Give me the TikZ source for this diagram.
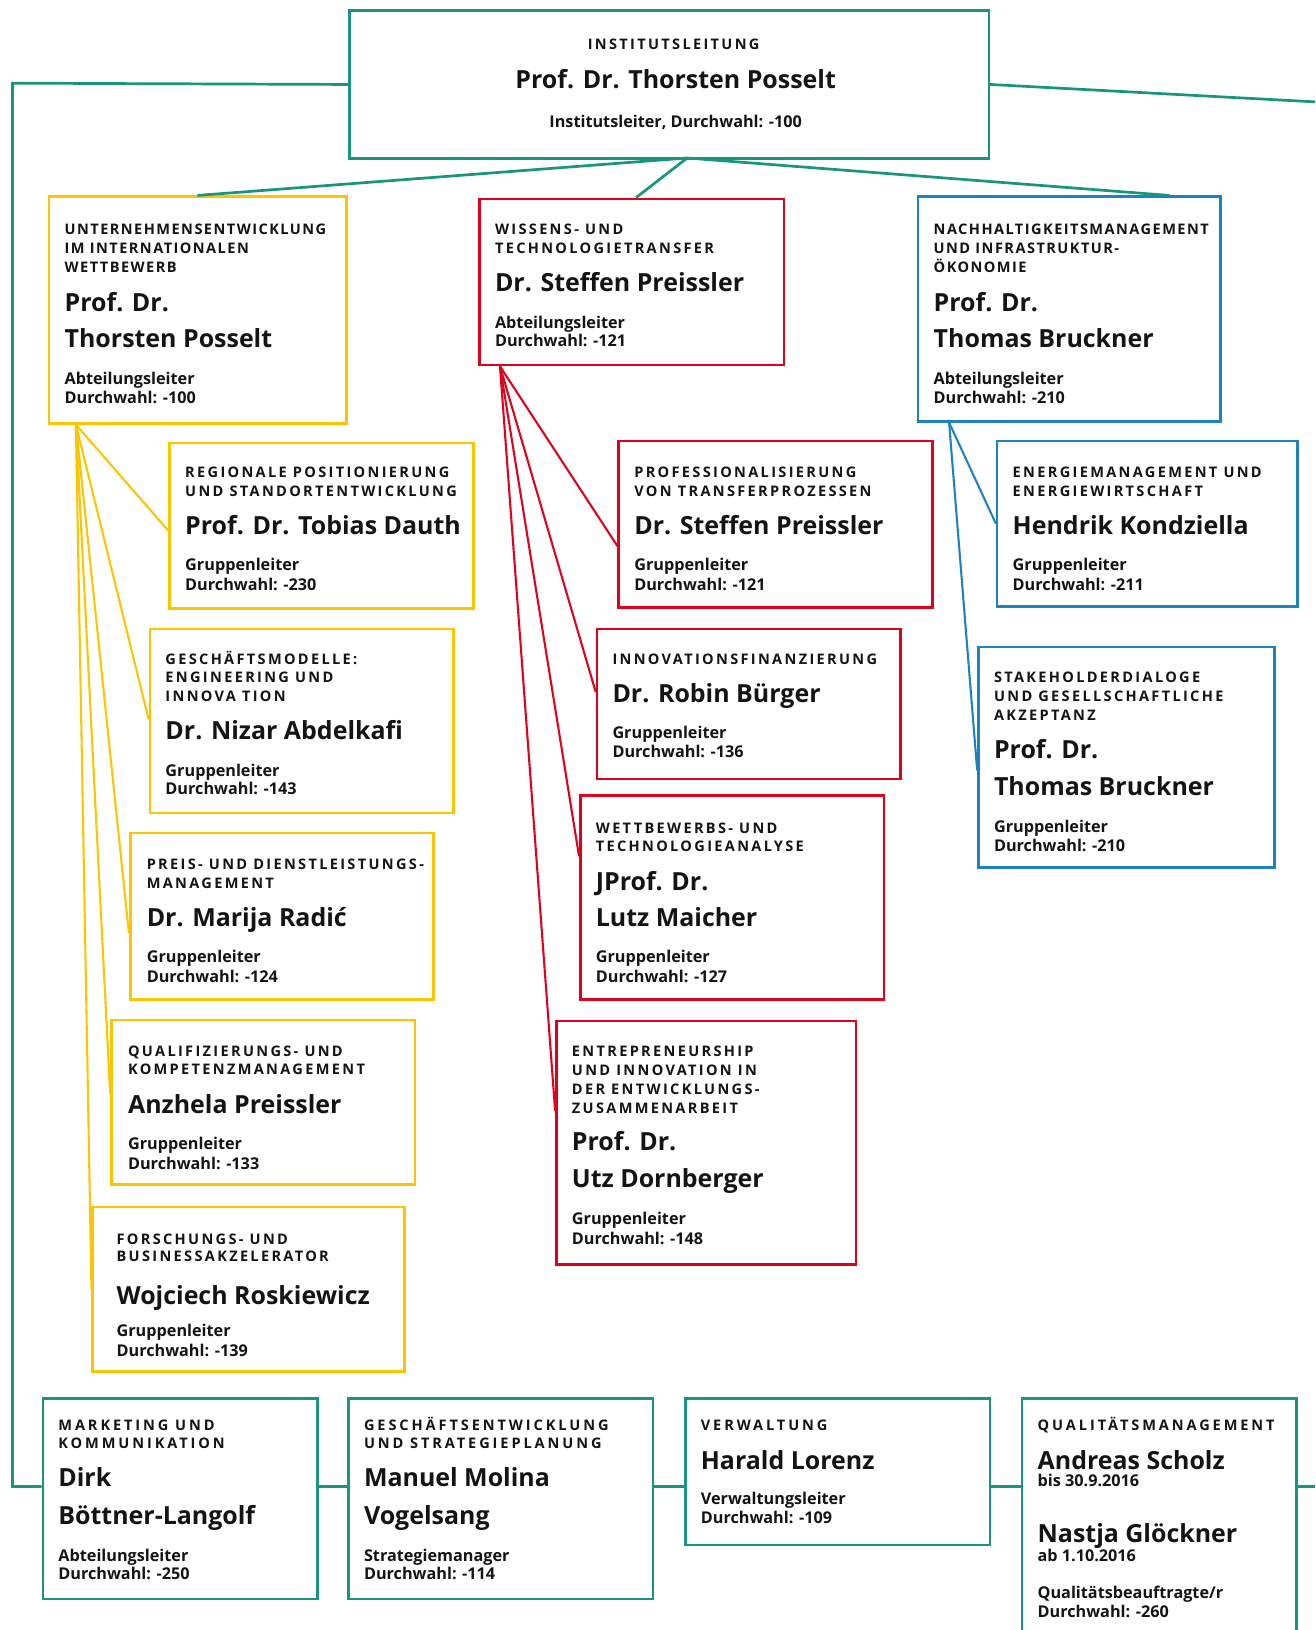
\documentclass[tikz,border=0pt]{standalone}
\usepackage{fontspec}
\setmainfont{Open Sans}
\newfontfamily\hdA[LetterSpace=16]{Open Sans}
\newfontfamily\hdB[LetterSpace=10]{Open Sans}
\newfontfamily\hdC[LetterSpace=20]{Open Sans}
\usetikzlibrary{calc}
\definecolor{fteal}{RGB}{23,150,125}
\definecolor{fyel}{RGB}{253,196,0}
\definecolor{fred}{RGB}{226,0,26}
\definecolor{fblue}{RGB}{31,130,192}
\definecolor{ftxt}{RGB}{20,20,20}
\tikzset{
  orgbox/.style={draw, line width=2.5pt, rectangle, inner sep=0pt, anchor=north west},
  tealbox/.style={orgbox, draw=fteal},
  yelbox/.style={orgbox, draw=fyel},
  redbox/.style={orgbox, draw=fred},
  bluebox/.style={orgbox, draw=fblue},
  txtbase/.style={anchor=mid west, inner sep=0pt, text=ftxt},
  hd/.style={txtbase, yshift=-3pt, font=\hdA\bfseries\fontsize{14}{16}\selectfont},
  hdn/.style={txtbase, yshift=-3pt, font=\hdB\bfseries\fontsize{14}{16}\selectfont},
  hdw/.style={txtbase, yshift=-3pt, font=\hdC\bfseries\fontsize{14}{16}\selectfont},
  nm/.style={txtbase, yshift=-6.5pt, font=\bfseries\fontsize{24}{26}\selectfont},
  sm/.style={txtbase, yshift=-3pt, font=\bfseries\fontsize{15.6}{17}\selectfont},
  tealline/.style={draw=fteal, line width=2.6pt},
  yelline/.style={draw=fyel, line width=2pt},
  redline/.style={draw=fred, line width=2pt},
  blueline/.style={draw=fblue, line width=2pt},
}
\newcommand\obox[6]{\node[#2, minimum width=#5pt, minimum height=#6pt] (#1) at (#3,#4) {};}
\newcommand\otxt[5]{\node[#2] (#1) at (#3,#4) {#5};}
\begin{document}
\begin{tikzpicture}[x=1pt,y=-1pt]
\clip (0,0) rectangle (1265,1568);
\fill[white] (0,0) rectangle (1265,1568);

% ---------- top ----------
\obox{top}{tealbox}{335}{9}{615}{142}
\node[hd, anchor=mid] (toph) at (648,42) {INSTITUTSLEITUNG};
\node[nm, anchor=mid] (topn) at (650,76) {Prof. Dr. Thorsten Posselt};
\node[sm, anchor=mid] (tops) at (650,117) {Institutsleiter, Durchwahl: -100};

% ---------- level 2 ----------
\obox{Y0}{yelbox}{46}{188}{286}{218}
\otxt{Y0a}{hdn}{62}{220}{UNTERNEHMENSENTWICKLUNG}
\otxt{Y0b}{hdn}{62}{238}{IM INTERNATIONALEN}
\otxt{Y0c}{hdn}{62}{256}{WETTBEWERB}
\otxt{Y0d}{nm}{62}{290}{Prof. Dr.}
\otxt{Y0e}{nm}{62}{325}{Thorsten Posselt}
\otxt{Y0f}{sm}{62}{364}{Abteilungsleiter}
\otxt{Y0g}{sm}{62}{382}{Durchwahl: -100}

\obox{R0}{redbox}{460}{190}{293}{160}
\otxt{R0a}{hd}{476}{220}{WISSENS- UND}
\otxt{R0b}{hd}{476}{238}{TECHNOLOGIETRANSFER}
\otxt{R0d}{nm}{476}{271}{Dr. Steffen Preissler}
\otxt{R0f}{sm}{476}{310}{Abteilungsleiter}
\otxt{R0g}{sm}{476}{328}{Durchwahl: -121}

\obox{B0}{bluebox}{882}{188}{291}{216}
\otxt{B0a}{hdn}{898}{220}{NACHHALTIGKEITSMANAGEMENT}
\otxt{B0b}{hdn}{898}{238}{UND INFRASTRUKTUR-}
\otxt{B0c}{hdn}{898}{256}{ÖKONOMIE}
\otxt{B0d}{nm}{898}{290}{Prof. Dr.}
\otxt{B0e}{nm}{898}{325}{Thomas Bruckner}
\otxt{B0f}{sm}{898}{364}{Abteilungsleiter}
\otxt{B0g}{sm}{898}{382}{Durchwahl: -210}

% ---------- yellow children ----------
\obox{Y1}{yelbox}{162}{425}{292}{159}
\otxt{Y1a}{hd}{178}{454}{REGIONALE POSITIONIERUNG}
\otxt{Y1b}{hd}{178}{472}{UND STANDORTENTWICKLUNG}
\otxt{Y1d}{nm}{178}{505}{Prof. Dr. Tobias Dauth}
\otxt{Y1f}{sm}{178}{543}{Gruppenleiter}
\otxt{Y1g}{sm}{178}{562}{Durchwahl: -230}

\obox{Y2}{yelbox}{143}{604}{292}{177}
\otxt{Y2a}{hd}{159}{634}{GESCHÄFTSMODELLE:}
\otxt{Y2b}{hd}{159}{651}{ENGINEERING UND}
\otxt{Y2c}{hd}{159}{669}{INNOVA TION}
\otxt{Y2d}{nm}{159}{702}{Dr. Nizar Abdelkafi}
\otxt{Y2f}{sm}{159}{741}{Gruppenleiter}
\otxt{Y2g}{sm}{159}{759}{Durchwahl: -143}

\obox{Y3}{yelbox}{124}{800}{292}{160}
\otxt{Y3a}{hd}{141}{831}{PREIS- UND DIENSTLEISTUNGS-}
\otxt{Y3b}{hd}{141}{849}{MANAGEMENT}
\otxt{Y3d}{nm}{141}{882}{Dr. Marija Radić}
\otxt{Y3f}{sm}{141}{920}{Gruppenleiter}
\otxt{Y3g}{sm}{141}{939}{Durchwahl: -124}

\obox{Y4}{yelbox}{106}{980}{292}{158}
\otxt{Y4a}{hd}{123}{1011}{QUALIFIZIERUNGS- UND}
\otxt{Y4b}{hd}{123}{1028}{KOMPETENZMANAGEMENT}
\otxt{Y4d}{nm}{123}{1062}{Anzhela Preissler}
\otxt{Y4f}{sm}{123}{1100}{Gruppenleiter}
\otxt{Y4g}{sm}{123}{1119}{Durchwahl: -133}

\obox{Y5}{yelbox}{88}{1160}{300}{158}
\otxt{Y5a}{hd}{112}{1191}{FORSCHUNGS- UND}
\otxt{Y5b}{hd}{112}{1208}{BUSINESSAKZELERATOR}
\otxt{Y5d}{nm}{112}{1246}{Wojciech Roskiewicz}
\otxt{Y5f}{sm}{112}{1280}{Gruppenleiter}
\otxt{Y5g}{sm}{112}{1299}{Durchwahl: -139}

% ---------- red children ----------
\obox{R1}{redbox}{594}{423}{302}{160}
\otxt{R1a}{hd}{610}{454}{PROFESSIONALISIERUNG}
\otxt{R1b}{hd}{610}{472}{VON TRANSFERPROZESSEN}
\otxt{R1d}{nm}{610}{505}{Dr. Steffen Preissler}
\otxt{R1f}{sm}{610}{543}{Gruppenleiter}
\otxt{R1g}{sm}{610}{562}{Durchwahl: -121}

\obox{R2}{redbox}{573}{604}{292}{144}
\otxt{R2a}{hd}{589}{634}{INNOVATIONSFINANZIERUNG}
\otxt{R2d}{nm}{589}{667}{Dr. Robin Bürger}
\otxt{R2f}{sm}{589}{705}{Gruppenleiter}
\otxt{R2g}{sm}{589}{723}{Durchwahl: -136}

\obox{R3}{redbox}{557}{764}{292}{196}
\otxt{R3a}{hd}{573}{796}{WETTBEWERBS- UND}
\otxt{R3b}{hd}{573}{813}{TECHNOLOGIEANALYSE}
\otxt{R3d}{nm}{573}{847}{JProf. Dr.}
\otxt{R3e}{nm}{573}{882}{Lutz Maicher}
\otxt{R3f}{sm}{573}{920}{Gruppenleiter}
\otxt{R3g}{sm}{573}{939}{Durchwahl: -127}

\obox{R4}{redbox}{534}{981}{288}{234}
\otxt{R4a}{hd}{550}{1011}{ENTREPRENEURSHIP}
\otxt{R4b}{hd}{550}{1029}{UND INNOVATION IN}
\otxt{R4c}{hd}{550}{1047}{DER ENTWICKLUNGS-}
\otxt{R4h}{hd}{550}{1065}{ZUSAMMENARBEIT}
\otxt{R4d}{nm}{550}{1098}{Prof. Dr.}
\otxt{R4e}{nm}{550}{1133}{Utz Dornberger}
\otxt{R4f}{sm}{550}{1172}{Gruppenleiter}
\otxt{R4g}{sm}{550}{1191}{Durchwahl: -148}

% ---------- blue children ----------
\obox{B1}{bluebox}{958}{423}{289}{159}
\otxt{B1a}{hd}{974}{454}{ENERGIEMANAGEMENT UND}
\otxt{B1b}{hd}{974}{472}{ENERGIEWIRTSCHAFT}
\otxt{B1d}{nm}{974}{505}{Hendrik Kondziella}
\otxt{B1f}{sm}{974}{543}{Gruppenleiter}
\otxt{B1g}{sm}{974}{562}{Durchwahl: -211}

\obox{B2}{bluebox}{940}{621}{285}{212}
\otxt{B2a}{hd}{956}{651}{STAKEHOLDERDIALOGE}
\otxt{B2b}{hd}{956}{669}{UND GESELLSCHAFTLICHE}
\otxt{B2c}{hd}{956}{687}{AKZEPTANZ}
\otxt{B2d}{nm}{956}{720}{Prof. Dr.}
\otxt{B2e}{nm}{956}{756}{Thomas Bruckner}
\otxt{B2f}{sm}{956}{795}{Gruppenleiter}
\otxt{B2g}{sm}{956}{813}{Durchwahl: -210}

% ---------- bottom row ----------
\obox{G1}{tealbox}{40}{1344}{264}{193}
\otxt{G1a}{hdw}{56}{1370}{MARKETING UND}
\otxt{G1b}{hdw}{56}{1388}{KOMMUNIKATION}
\otxt{G1d}{nm}{56}{1421}{Dirk}
\otxt{G1e}{nm}{56}{1457}{Böttner-Langolf}
\otxt{G1f}{sm}{56}{1496}{Abteilungsleiter}
\otxt{G1g}{sm}{56}{1514}{Durchwahl: -250}

\obox{G2}{tealbox}{334}{1344}{293}{193}
\otxt{G2a}{hdw}{350}{1370}{GESCHÄFTSENTWICKLUNG}
\otxt{G2b}{hdw}{350}{1388}{UND STRATEGIEPLANUNG}
\otxt{G2d}{nm}{350}{1421}{Manuel Molina}
\otxt{G2e}{nm}{350}{1457}{Vogelsang}
\otxt{G2f}{sm}{350}{1496}{Strategiemanager}
\otxt{G2g}{sm}{350}{1514}{Durchwahl: -114}

\obox{G3}{tealbox}{658}{1344}{293}{141}
\otxt{G3a}{hdw}{674}{1370}{VERWALTUNG}
\otxt{G3d}{nm}{674}{1404}{Harald Lorenz}
\otxt{G3f}{sm}{674}{1442}{Verwaltungsleiter}
\otxt{G3g}{sm}{674}{1460}{Durchwahl: -109}

\obox{G4}{tealbox}{982}{1344}{264}{250}
\otxt{G4a}{hdw}{998}{1370}{QUALITÄTSMANAGEMENT}
\otxt{G4d}{nm}{998}{1404}{Andreas Scholz}
\otxt{G4b}{sm}{998}{1424}{bis 30.9.2016}
\otxt{G4e}{nm}{998}{1475}{Nastja Glöckner}
\otxt{G4c}{sm}{998}{1496}{ab 1.10.2016}
\otxt{G4f}{sm}{998}{1532}{Qualitätsbeauftragte/r}
\otxt{G4g}{sm}{998}{1550}{Durchwahl: -260}

% ---------- connectors ----------
\coordinate (topo) at (661,152);
\coordinate (y0in) at (190,188);
\coordinate (r0in) at (612,190);
\coordinate (b0in) at (1125,188);
\draw[tealline] (topo) -- (y0in);
\draw[tealline] (topo) -- (r0in);
\draw[tealline] (topo) -- (b0in);

\coordinate (lc) at (12,80);
\coordinate (lb) at (12,1430);
\coordinate (rc) at (1265,98);
\coordinate (rb) at (1265,1430);
\draw[tealline] (top.west) -- (lc) -- (lb) -- ($(G1.north west)+(0,86)$);
\draw[tealline] (top.east) -- (rc);
\draw[tealline] ($(G1.north east)+(0,86)$) -- ($(G2.north west)+(0,86)$);
\draw[tealline] ($(G2.north east)+(0,86)$) -- ($(G3.north west)+(0,86)$);
\draw[tealline] ($(G3.north east)+(0,86)$) -- ($(G4.north west)+(0,86)$);
\draw[tealline] ($(G4.north east)+(0,86)$) -- (rb);

\coordinate (yo) at ($(Y0.south west)+(27,0)$);
\draw[yelline] (yo) -- ($(Y1.north west)!0.53!(Y1.south west)$);
\draw[yelline] (yo) -- ($(Y2.north west)!0.49!(Y2.south west)$);
\draw[yelline] (yo) -- ($(Y3.north west)!0.60!(Y3.south west)$);
\draw[yelline] (yo) -- ($(Y4.north west)!0.45!(Y4.south west)$);
\draw[yelline] (yo) -- ($(Y5.north west)!0.50!(Y5.south west)$);

\coordinate (ro) at ($(R0.south west)+(21,0)$);
\draw[redline] (ro) -- ($(R1.north west)!0.63!(R1.south west)$);
\draw[redline] (ro) -- ($(R2.north west)!0.42!(R2.south west)$);
\draw[redline] (ro) -- ($(R3.north west)!0.30!(R3.south west)$);
\draw[redline] (ro) -- ($(R4.north west)!0.37!(R4.south west)$);

\coordinate (bo) at ($(B0.south west)+(31,0)$);
\draw[blueline] (bo) -- (B1.west);
\draw[blueline] (bo) -- ($(B2.north west)!0.56!(B2.south west)$);
\end{tikzpicture}
\end{document}
